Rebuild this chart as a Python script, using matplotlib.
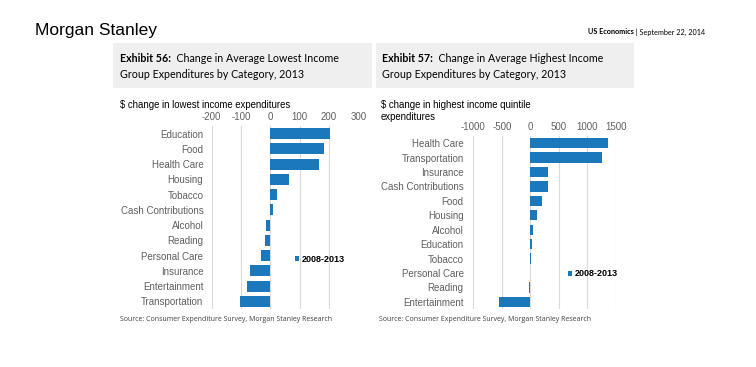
import matplotlib
matplotlib.use("Agg")
import matplotlib.pyplot as plt
from matplotlib.patches import Rectangle

# ---- data ----
low_categories = ["Education", "Food", "Health Care", "Housing", "Tobacco",
                  "Cash Contributions", "Alcohol", "Reading", "Personal Care",
                  "Insurance", "Entertainment", "Transportation"]
low_values = [205, 182, 167, 62, 24, 10, -14, -17, -31, -68, -78, -102]
low_ticks = [-200, -100, 0, 100, 200, 300]

high_categories = ["Health Care", "Transportation", "Insurance", "Cash Contributions",
                   "Food", "Housing", "Alcohol", "Education", "Tobacco",
                   "Personal Care", "Reading", "Entertainment"]
high_values = [1372, 1256, 320, 308, 198, 110, 47, 29, 5, 2, -15, -541]
high_ticks = [-1000, -500, 0, 500, 1000, 1500]

series_name = "2008-2013"

W, H = 756, 367
BAR = "#1b78bb"
GRID = "#d9d9d9"
TICKC = "#606060"

fig = plt.figure(figsize=(W / 100, H / 100), dpi=100)
fig.patch.set_facecolor("white")

def fx(px):
    return px / W

def fy(py):
    return 1 - py / H

# header
fig.text(fx(35), fy(30), "Morgan Stanley", fontsize=12.5,
         family=["Liberation Sans"], va="center", ha="left", color="black")

renderer = fig.canvas.get_renderer()

def two_part(x, y, bold, normal, size, family, color="black", right=False):
    t2 = fig.text(0, 0, normal, fontsize=size, family=family, color=color, va="center")
    t1 = fig.text(0, 0, bold, fontsize=size, family=family, weight="bold", color=color, va="center")
    w1 = t1.get_window_extent(renderer).width
    w2 = t2.get_window_extent(renderer).width
    if right:
        x0 = x - w1 - w2
    else:
        x0 = x
    t1.set_position((fx(x0), fy(y)))
    t2.set_position((fx(x0 + w1), fy(y)))

two_part(705, 32, "US Economics", " | September 22, 2014", 5.2, ["Lato"], right=True)

# title boxes
for (x0, x1) in [(113, 372), (376, 634)]:
    fig.patches.append(Rectangle((fx(x0), fy(88)), fx(x1 - x0), (88 - 43) / H,
                                 transform=fig.transFigure, facecolor="#efefef",
                                 edgecolor="none", zorder=0))

two_part(120, 58, "Exhibit 56:", "  Change in Average Lowest Income", 7.7, ["Lato"])
fig.text(fx(120), fy(75), "Group Expenditures by Category, 2013", fontsize=7.7,
         family=["Lato"], va="center")
two_part(382, 58, "Exhibit 57:", "  Change in Average Highest Income", 7.7, ["Lato"])
fig.text(fx(382), fy(75), "Group Expenditures by Category, 2013", fontsize=7.7,
         family=["Lato"], va="center")

def make_axes(rect_px, cats, vals, ticks, label_pad):
    x0, x1, ytop, ybot = rect_px
    ax = fig.add_axes([fx(x0), fy(ybot), fx(x1 - x0), (ybot - ytop) / H])
    pos = list(range(len(cats)))
    ax.barh(pos, vals, height=0.72, color=BAR, zorder=3, label=series_name)
    ax.set_ylim(len(cats) - 0.5, -0.5)
    ax.set_xlim(ticks[0], ticks[-1])
    ax.set_xticks(ticks)
    ax.set_xticklabels([str(t) for t in ticks])
    ax.set_yticks(pos)
    ax.set_yticklabels(cats)
    ax.xaxis.tick_top()
    ax.tick_params(axis="x", length=0, pad=3, labelsize=7, labelcolor=TICKC)
    ax.tick_params(axis="y", length=0, pad=label_pad, labelsize=7, labelcolor=TICKC)
    for lab in ax.get_xticklabels() + ax.get_yticklabels():
        lab.set_family("Liberation Sans")
    for s in ax.spines.values():
        s.set_visible(False)
    ax.grid(axis="x", color=GRID, linewidth=0.8, zorder=0)
    ax.set_axisbelow(True)
    ax.patch.set_alpha(0)
    return ax

axL = make_axes((211.7, 358.3, 126, 309), low_categories, low_values, low_ticks, 6)
axR = make_axes((473.3, 615.7, 136, 309), high_categories, high_values, high_ticks, 7)

def legend_at(ax, x, y):
    leg = ax.legend(loc="center left", bbox_to_anchor=(fx(x), fy(y)),
                    bbox_transform=fig.transFigure, frameon=False,
                    handlelength=0.45, handleheight=0.45, handletextpad=0.3,
                    borderpad=0, borderaxespad=0,
                    prop={"family": "Liberation Sans", "size": 6.5, "weight": "bold"})
    return leg

legend_at(axL, 295, 259)
legend_at(axR, 568, 274)

# axis titles
fig.text(fx(120), fy(105), "$ change in lowest income expenditures", fontsize=6.9,
         family=["Liberation Sans"], va="center", color="black")
fig.text(fx(381), fy(105.5), "$ change in highest income quintile", fontsize=6.9,
         family=["Liberation Sans"], va="center", color="black")
fig.text(fx(381), fy(116.5), "expenditures", fontsize=6.9,
         family=["Liberation Sans"], va="center", color="black")

# sources
src = "Source: Consumer Expenditure Survey, Morgan Stanley Research"
fig.text(fx(120), fy(319.5), src, fontsize=5, family=["Open Sans"], va="center", color="#404040")
fig.text(fx(379), fy(319.5), src, fontsize=5, family=["Open Sans"], va="center", color="#404040")

fig.savefig("out.png", dpi=100, facecolor="white")
